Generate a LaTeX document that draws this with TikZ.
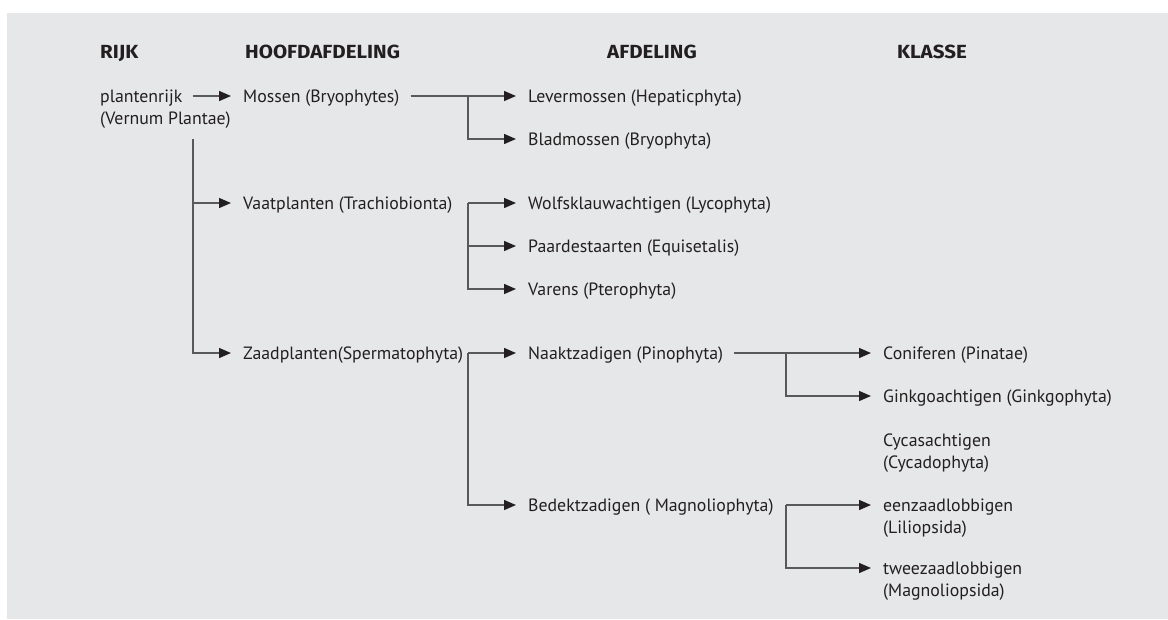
\documentclass[tikz,border=0pt]{standalone}
\usepackage{fontspec}
\setmainfont{PT Sans}
\newfontfamily\headfont[FakeStretch=1.08]{Fira Sans}
\usetikzlibrary{positioning,arrows.meta}
\definecolor{bg}{HTML}{E6E7E8}
\definecolor{ink}{HTML}{231F20}
\definecolor{wire}{HTML}{58595B}
\tikzset{
  item/.style={inner sep=0pt, anchor=west, text=ink, text height=15pt, text depth=3pt,
    font=\fontsize{17.8}{22}\selectfont},
  head/.style={item, font=\fontsize{19}{22}\selectfont\headfont\bfseries},
  arr/.style={draw=wire, line width=1.4pt, shorten >=12pt,
    -{Triangle[length=12pt, width=10pt, color=ink]}},
  from/.style={shorten <=11pt}
}
\begin{document}
\begin{tikzpicture}[x=1pt, y=1pt]
  \useasboundingbox (0,0) rectangle (1168,-619);
  \fill[bg] (7,-13) rectangle (1168,-619);

  \node (rijk) [head] at (100,-52) {RIJK};
  \node (hoofd) [head] at (245,-52) {HOOFDAFDELING};
  \node (afd) [head] at (607,-52) {AFDELING};
  \node (klasse) [head] at (897,-52) {KLASSE};

  \node (plant) [item] at (100,-96) {plantenrijk};
  \node (plantlat) [item, below=22pt of plant.west, anchor=west] {(Vernum Plantae)};
  \node (moss) [item, right=143pt of plant.west] {Mossen (Bryophytes)};
  \node (vaat) [item, below=107pt of moss.west, anchor=west] {Vaatplanten (Trachiobionta)};
  \node (zaad) [item, below=150pt of vaat.west, anchor=west] {Zaadplanten(Spermatophyta)};

  \node (lev) [item, right=285pt of moss.west] {Levermossen (Hepaticphyta)};
  \node (blad) [item, below=43pt of lev.west, anchor=west] {Bladmossen (Bryophyta)};
  \node (wolf) [item, right=285pt of vaat.west] {Wolfsklauwachtigen (Lycophyta)};
  \node (paard) [item, below=43pt of wolf.west, anchor=west] {Paardestaarten (Equisetalis)};
  \node (var) [item, below=43pt of paard.west, anchor=west] {Varens (Pterophyta)};
  \node (naakt) [item, right=285pt of zaad.west] {Naaktzadigen (Pinophyta)};
  \node (bedekt) [item, below=152pt of naakt.west, anchor=west] {Bedektzadigen ( Magnoliophyta)};

  \node (conif) [item, right=355pt of naakt.west] {Coniferen (Pinatae)};
  \node (gink) [item, below=43pt of conif.west, anchor=west] {Ginkgoachtigen (Ginkgophyta)};
  \node (cycas) [item, below=44pt of gink.west, anchor=west] {Cycasachtigen};
  \node (cycaslat) [item, below=22pt of cycas.west, anchor=west] {(Cycadophyta)};
  \node (een) [item, right=355pt of bedekt.west] {eenzaadlobbigen};
  \node (eenlat) [item, below=22pt of een.west, anchor=west] {(Liliopsida)};
  \node (twee) [item, below=63pt of een.west, anchor=west] {tweezaadlobbigen};
  \node (tweelat) [item, below=22pt of twee.west, anchor=west] {(Magnoliopsida)};

  \coordinate [below right=21pt and 93pt of plantlat.west] (t0);
  \coordinate [right=225pt of moss.west] (b1);
  \coordinate [right=225pt of vaat.west] (b2);
  \coordinate [right=225pt of zaad.west] (b3);
  \coordinate [right=258pt of naakt.west] (b4);
  \coordinate [right=258pt of bedekt.west] (b5);

  \draw[arr, shorten <=10pt] (plant) -- (moss);
  \draw[arr] (t0) |- (vaat);
  \draw[arr] (t0) |- (zaad);
  \draw[arr, from] (moss) -- (lev);
  \draw[arr] (b1) |- (blad);
  \draw[arr] (b2) -- (wolf);
  \draw[arr] (b2) |- (paard);
  \draw[arr] (b2) |- (var);
  \draw[arr] (b3) -- (naakt);
  \draw[arr] (b3) |- (bedekt);
  \draw[arr, from] (naakt) -- (conif);
  \draw[arr] (b4) |- (gink);
  \draw[arr] (b5) -- (een);
  \draw[arr] (b5) |- (twee);
\end{tikzpicture}
\end{document}
